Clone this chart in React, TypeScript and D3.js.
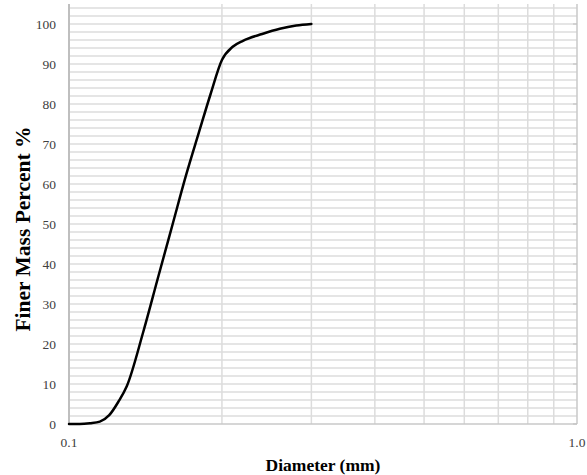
import { useEffect, useRef } from 'react';
import * as d3 from 'd3';

// grain size distribution
const diameters = [0.1, 0.105, 0.11, 0.115, 0.12, 0.125, 0.13, 0.14, 0.15, 0.16, 0.17, 0.18, 0.19, 0.2, 0.21, 0.22, 0.24, 0.26, 0.28, 0.3];
const finerPercent = [0, 0, 0.2, 0.6, 2.2, 5.5, 9.5, 23, 37, 50, 62.2, 72.7, 82.5, 91, 94.3, 95.8, 97.5, 98.8, 99.6, 100];
const yTicks = [0, 10, 20, 30, 40, 50, 60, 70, 80, 90, 100];
const xTickLabels = [{ v: 0.1, label: '0.1' }, { v: 1.0, label: '1.0' }];
const xGrid = [0.2, 0.3, 0.4, 0.5, 0.6, 0.7, 0.8, 0.9];

export default function App() {
  const svgRef = useRef<SVGSVGElement>(null);

  useEffect(() => {
    const width = 587;
    const height = 475;
    const margin = { top: 4, right: 10, bottom: 51, left: 69 };
    const serif = '"Liberation Serif", "Times New Roman", serif';

    const svg = d3.select(svgRef.current);
    svg.selectAll('*').remove();

    const x = d3.scaleLog().domain([0.1, 1]).range([margin.left, width - margin.right]);
    const y = d3.scaleLinear().domain([0, 105]).range([height - margin.bottom, margin.top]);

    const g = svg.append('g');

    // horizontal minor grid every 2 %
    const hLines = d3.range(2, 105, 2);
    g.selectAll('.hgrid')
      .data(hLines)
      .enter()
      .append('line')
      .attr('x1', x(0.1))
      .attr('x2', x(1))
      .attr('y1', d => y(d))
      .attr('y2', d => y(d))
      .attr('stroke', '#dcdcdc')
      .attr('stroke-width', 1.5);

    // vertical grid
    g.selectAll('.vgrid')
      .data(xGrid)
      .enter()
      .append('line')
      .attr('x1', d => x(d))
      .attr('x2', d => x(d))
      .attr('y1', y(105))
      .attr('y2', y(0))
      .attr('stroke', '#dcdcdc')
      .attr('stroke-width', 1.5);

    // frame lines
    g.append('line')
      .attr('x1', x(0.1)).attr('x2', x(0.1))
      .attr('y1', y(105)).attr('y2', y(0))
      .attr('stroke', '#bfbfbf').attr('stroke-width', 2);
    g.append('line')
      .attr('x1', x(1)).attr('x2', x(1))
      .attr('y1', y(105)).attr('y2', y(0))
      .attr('stroke', '#c8c8c8').attr('stroke-width', 1.5);
    g.append('line')
      .attr('x1', x(0.1)).attr('x2', x(1))
      .attr('y1', y(0)).attr('y2', y(0))
      .attr('stroke', '#c8c8c8').attr('stroke-width', 1.5);

    // small ticks on right edge
    g.selectAll('.rtick')
      .data(yTicks)
      .enter()
      .append('line')
      .attr('x1', x(1) - 4)
      .attr('x2', x(1))
      .attr('y1', d => y(d))
      .attr('y2', d => y(d))
      .attr('stroke', '#bfbfbf')
      .attr('stroke-width', 1);

    // y tick labels
    g.selectAll('.ylab')
      .data(yTicks)
      .enter()
      .append('text')
      .attr('x', 56)
      .attr('y', d => y(d))
      .attr('dy', '0.35em')
      .attr('text-anchor', 'end')
      .style('font-family', serif)
      .style('font-size', '13.5px')
      .style('fill', '#404040')
      .text(d => d);

    // x tick labels
    g.selectAll('.xlab')
      .data(xTickLabels)
      .enter()
      .append('text')
      .attr('x', d => x(d.v))
      .attr('y', 447)
      .attr('text-anchor', 'middle')
      .style('font-family', serif)
      .style('font-size', '13.5px')
      .style('fill', '#404040')
      .text(d => d.label);

    // curve
    const data = diameters.map((d, i) => ({ d, p: finerPercent[i] }));
    const line = d3.line<{ d: number; p: number }>()
      .x(v => x(v.d))
      .y(v => y(v.p))
      .curve(d3.curveMonotoneX);

    g.append('path')
      .datum(data)
      .attr('d', line)
      .attr('fill', 'none')
      .attr('stroke', '#000')
      .attr('stroke-width', 2.5)
      .attr('stroke-linecap', 'round');

    // axis titles
    g.append('text')
      .attr('x', 323)
      .attr('y', 471)
      .attr('text-anchor', 'middle')
      .style('font-family', serif)
      .style('font-size', '17.5px')
      .style('font-weight', 'bold')
      .style('fill', '#000')
      .text('Diameter (mm)');

    g.append('text')
      .attr('transform', `translate(30, 229) rotate(-90)`)
      .attr('text-anchor', 'middle')
      .attr('textLength', 205)
      .attr('lengthAdjust', 'spacingAndGlyphs')
      .style('font-family', serif)
      .style('font-size', '20px')
      .style('font-weight', 'bold')
      .style('fill', '#000')
      .text('Finer Mass Percent %');
  }, []);

  return (
    <svg
      ref={svgRef}
      width={587}
      height={475}
      style={{ position: 'absolute', left: 0, top: 0, background: '#fff' }}
    />
  );
}
